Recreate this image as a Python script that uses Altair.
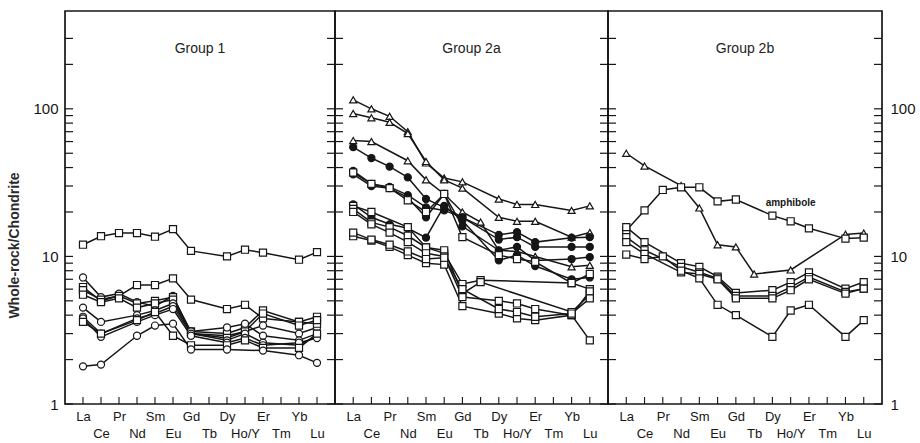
import json
import altair as alt
import pandas as pd

# ---------------- data ----------------
ELEMENTS = ["La", "Ce", "Pr", "Nd", "Sm", "Eu", "Gd", "Tb", "Dy", "Ho/Y", "Er", "Tm", "Yb", "Lu"]
N = None

# Group 1
g1_a = [12.0, 13.7, 14.4, 14.4, 13.6, 15.3, 10.9, N, 10.0, 11.1, 10.6, N, 9.5, 10.7]
g1_b = [6.2, 5.0, 5.4, 6.4, 6.4, 7.1, 5.1, N, 4.4, 4.7, 3.8, N, 3.6, 3.9]
g1_c = [7.2, 5.3, 5.6, 4.9, 4.6, 5.4, 3.0, N, 2.9, 3.1, 3.4, N, 3.0, 3.3]
g1_d = [5.9, 5.1, 5.4, 4.8, 5.0, 5.3, 3.1, N, 3.0, 3.3, 4.3, N, 3.6, 3.5]
g1_e = [5.5, 4.9, 5.2, 4.5, 4.8, 5.1, 3.0, N, 2.8, 3.1, 4.1, N, 3.4, 3.7]
g1_f = [4.5, 3.6, N, 4.0, 4.3, 4.8, 3.1, N, 3.3, 3.5, 2.9, N, 2.7, 3.0]
g1_g = [3.9, 3.0, N, 3.8, 4.1, 4.6, 3.0, N, 2.7, 3.0, 2.6, N, 2.5, 2.9]
g1_h = [3.8, 2.85, N, 3.6, 4.0, 4.4, 2.9, N, 2.6, 2.8, 2.5, N, 2.6, 2.8]
g1_i = [3.6, 3.0, N, 3.7, 4.2, 2.9, 2.5, N, 2.5, 2.7, 2.4, N, 2.4, 3.0]
g1_j = [1.8, 1.85, N, 2.9, 3.4, 3.5, 2.34, N, 2.34, N, 2.3, N, 2.14, 1.9]
g1_markers = ["square", "square", "circle", "square", "square", "circle", "circle", "circle", "square", "circle"]

# Group 2a
g2_a = [115, 100, 89, 70, 43, 34, 32, N, 24.5, 22.5, 22.5, N, 20.5, 22]
g2_b = [93, 87, 81, 68, 44, 33, 29, N, 18.4, 17.3, 17.3, N, 13.5, 14.5]
g2_c = [61, 60, N, 44.5, 33, 26.5, 20, 17.1, 11.0, 10.8, 10.0, N, 8.5, 8.7]
g2_d = [55, 46.4, 40.6, 34.3, 24.5, 21.5, 18.4, N, 14.0, 14.6, 12.5, N, 13.4, 13.5]
g2_e = [38, 31, 29.6, 26, 21.5, 20.5, 18.4, N, 13.0, 13.5, 11.6, N, 11.6, 11.6]
g2_f = [36, 30, 29, 25, 18.4, 26.5, 16, N, 11.0, 11.6, 9.4, N, 9.6, 9.9]
g2_g = [22.5, 18.4, 16.5, 15.5, 13.4, 22, 17.5, N, 9.4, 10.2, 8.6, N, 7.0, 7.2]
g2_h = [37, 31, 29, 24, 20, 26.5, 13.5, N, 10.2, 9.6, 9.2, N, 6.6, 7.6]
g2_i = [22, 20, N, 15.8, 11.5, 10.5, 6.5, 6.9, N, N, N, N, 6.6, 6.0]
g2_j = [21, 17, 15.8, 13.8, 11.5, 11.0, 5.6, 6.7, N, N, N, N, 4.2, 5.5]
g2_k = [20, 16.5, 14.5, 12.5, 10.5, 10.0, 5.3, N, 5.0, 4.8, 4.4, N, 4.0, 5.8]
g2_l = [13.7, 12.8, 11.6, 10.2, 9.0, 8.8, 4.6, N, 4.1, 3.8, 3.7, N, 4.0, 2.7]
g2_m = [14.5, 13.0, 12.0, 10.8, 9.6, 9.8, 6.0, N, 4.4, 4.2, 3.9, N, 4.1, 5.2]
g2_markers = ["triangle", "triangle", "triangle", "dot", "dot", "dot", "dot", "square",
              "square", "square", "square", "square", "square"]

# Group 2b
g3_tri = [50, 41, N, 30.2, 21.3, 12.0, 11.6, 7.6, N, 8.1, N, N, 14.1, 14.4]
g3_amph = [15.0, 20.5, 28.2, 29.4, 29.4, 23.6, 24.3, N, 18.9, 17.3, 15.5, N, 13.2, 13.4]
g3_q1 = [15.8, 12.5, N, 9.0, 8.5, 7.3, 5.65, N, 5.9, 6.7, 7.8, N, 6.05, 6.7]
g3_q2 = [13.5, 11.0, N, 8.5, 7.8, 7.1, 5.4, N, 5.4, 6.2, 7.25, N, 5.75, 6.05]
g3_q3 = [12.5, 10.4, N, 7.8, 7.6, 7.0, 5.2, N, 5.2, 5.9, 7.0, N, 5.6, 6.05]
g3_q4 = [10.3, 9.6, 10.0, 8.0, 7.1, 4.7, 4.0, N, 2.85, 4.3, 4.7, N, 2.85, 3.7]
g3_markers = ["triangle", "square", "square", "square", "square", "square"]

PANEL_TITLES = ["Group 1", "Group 2a", "Group 2b"]
ANNOTATION = {"text": "amphibole", "idx": 9, "value": 23}

Y_DOMAIN = [1, 460]
Y_TICKS = [1, 2, 3, 4, 5, 6, 7, 8, 9, 10, 20, 30, 40, 50, 60, 70, 80, 90, 100, 200, 300]
Y_LABELS = [1, 10, 100]

# ---------------- styling ----------------
INK = "#161616"
FONT = "Liberation Sans"
H = 393
WIDTHS = [270, 273, 274]


def frame(series, markers):
    rows = []
    for k, (vals, mk) in enumerate(zip(series, markers)):
        for i, v in enumerate(vals):
            if v is not None:
                rows.append({"series": k, "marker": mk, "idx": i, "value": v})
    return pd.DataFrame(rows)


names_js = json.dumps(ELEMENTS)
label_expr = (f"datum.value % 2 == 1 ? ['', {names_js}[datum.value]] : {names_js}[datum.value]")

x_axis = alt.Axis(values=list(range(len(ELEMENTS))), labelExpr=label_expr, ticks=False,
                  domain=False, grid=False, labelOverlap=False, labelFlush=False,
                  labelBound=False, labelFont=FONT, labelFontSize=13, labelColor=INK,
                  labelPadding=6, labelLineHeight=17, title=None)
x_scale = alt.Scale(domain=[-1, 14], nice=False, zero=False)
y_scale = alt.Scale(type="log", domain=Y_DOMAIN, nice=False)

shape_scale = alt.Scale(domain=["square", "circle", "triangle", "dot"],
                        range=["square", "circle", "triangle-up", "circle"])
fill_scale = alt.Scale(domain=["square", "circle", "triangle", "dot"],
                       range=["white", "white", "white", INK])


def y_axis_for(kind):
    if kind == "left":
        return alt.Axis(values=Y_LABELS, ticks=False, domain=False, grid=False,
                        labelFont=FONT, labelFontSize=15, labelColor=INK, labelPadding=7,
                        title="Whole-rock/Chondrite", titleFont=FONT, titleFontSize=14,
                        titleFontWeight="bold", titleColor="#2a2a2a", titleX=-51, titleY=234,
                        titleAngle=-90, titleAlign="center", titleBaseline="middle")
    if kind == "right":
        return alt.Axis(values=Y_LABELS, orient="right", ticks=False, domain=False, grid=False,
                        labelFont=FONT, labelFontSize=15, labelColor=INK, labelPadding=8,
                        title=None)
    return None


def panel(df, title, width, ykind, annotation=None):
    xenc = alt.X("idx:Q", scale=x_scale, axis=x_axis)
    yenc = alt.Y("value:Q", scale=y_scale, axis=y_axis_for(ykind))
    tick_df = pd.DataFrame({"value": Y_TICKS})
    xt_df = pd.DataFrame({"idx": list(range(len(ELEMENTS)))})

    left_ticks = alt.Chart(tick_df).mark_rule(color=INK, strokeWidth=1.2).encode(
        y=yenc, x=alt.value(0), x2=alt.value(8))
    right_ticks = alt.Chart(tick_df).mark_rule(color=INK, strokeWidth=1.2).encode(
        y=yenc, x=alt.value(width - 8), x2=alt.value(width))
    bottom_ticks = alt.Chart(xt_df).mark_rule(color=INK, strokeWidth=1.1).encode(
        x=xenc, y=alt.value(H - 7), y2=alt.value(H))

    lines = alt.Chart(df).mark_line(color=INK, strokeWidth=1.5).encode(
        x=xenc, y=yenc, detail="series:N", order="idx:Q")
    points = alt.Chart(df).mark_point(filled=True, stroke=INK, strokeWidth=1.2, size=50,
                                      opacity=1).encode(
        x=xenc, y=yenc,
        shape=alt.Shape("marker:N", scale=shape_scale, legend=None),
        fill=alt.Fill("marker:N", scale=fill_scale, legend=None))
    ttl = alt.Chart(pd.DataFrame({"t": [title]})).mark_text(
        font=FONT, fontSize=14, color="#222222").encode(
        text="t:N", x=alt.value(width / 2), y=alt.value(38))

    layers = [left_ticks, right_ticks, bottom_ticks, lines, points, ttl]
    if annotation is not None:
        ann = alt.Chart(pd.DataFrame([annotation])).mark_text(
            font=FONT, fontSize=10, fontWeight="bold", color=INK).encode(
            text="text:N", x=xenc, y=yenc)
        layers.append(ann)
    return alt.layer(*layers).properties(width=width, height=H)


p1 = panel(frame([g1_a, g1_b, g1_c, g1_d, g1_e, g1_f, g1_g, g1_h, g1_i, g1_j], g1_markers),
           PANEL_TITLES[0], WIDTHS[0], "left")
p2 = panel(frame([g2_a, g2_b, g2_c, g2_d, g2_e, g2_f, g2_g, g2_h, g2_i, g2_j, g2_k, g2_l, g2_m],
                 g2_markers), PANEL_TITLES[1], WIDTHS[1], None)
p3 = panel(frame([g3_tri, g3_amph, g3_q1, g3_q2, g3_q3, g3_q4], g3_markers),
           PANEL_TITLES[2], WIDTHS[2], "right", ANNOTATION)

chart = alt.hconcat(p1, p2, p3, spacing=0, bounds="flush").properties(
    padding={"left": 6, "top": 10, "right": 2, "bottom": 0},
    background="white",
).configure_view(stroke=INK, strokeWidth=1.7)

chart.save("out.html", embed_options={"renderer": "svg", "actions": False})
